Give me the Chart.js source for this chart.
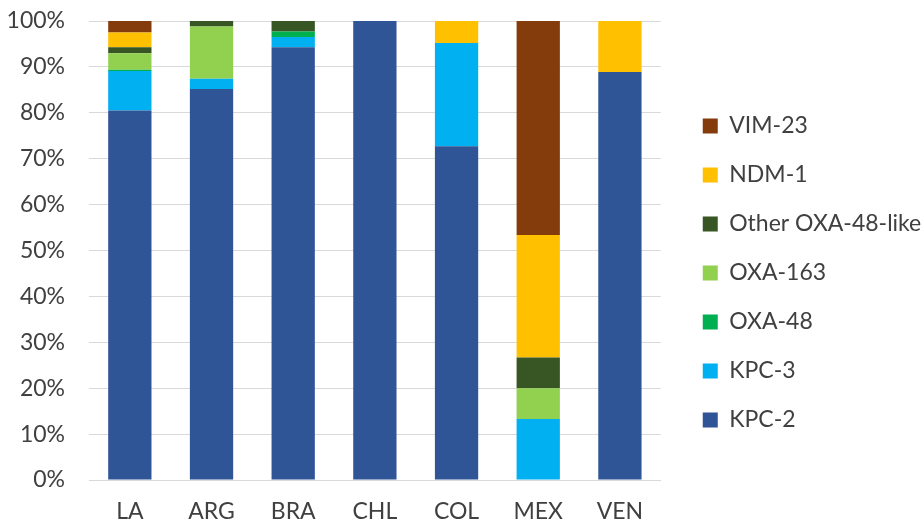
<!DOCTYPE html>
<html>
<head>
<meta charset="utf-8">
<script src="https://cdn.jsdelivr.net/npm/chart.js@4.4.1/dist/chart.umd.min.js"></script>
<style>
  html, body { margin: 0; padding: 0; background: #fff; }
  #wrap { width: 924px; height: 525px; }
</style>
</head>
<body>
<div id="wrap"><canvas id="c" width="924" height="525"></canvas></div>
<script>
// Countries / regions on the x axis
const categories = ['LA', 'ARG', 'BRA', 'CHL', 'COL', 'MEX', 'VEN'];

// Share of each carbapenemase (%) per category, stacked bottom to top
const kpc2      = [80.5, 85.2, 94.3, 100, 72.7, 0,    88.9];
const kpc3      = [8.6,  2.2,  2.2,  0,   22.5, 13.3, 0];
const oxa48     = [0.3,  0,    1.2,  0,   0,    0,    0];
const oxa163    = [3.6,  11.4, 0,    0,   0,    6.7,  0];
const otherOxa  = [1.3,  1.2,  2.3,  0,   0,    6.7,  0];
const ndm1      = [3.2,  0,    0,    0,   4.8,  26.7, 11.1];
const vim23     = [2.5,  0,    0,    0,   0,    46.6, 0];

const yTicks = [0, 10, 20, 30, 40, 50, 60, 70, 80, 90, 100];

const FONT = 'Lato, "Open Sans", sans-serif';
const TEXT = '#404040';

const series = [
  { label: 'KPC-2', data: kpc2, color: '#2F5597' },
  { label: 'KPC-3', data: kpc3, color: '#00B0F0' },
  { label: 'OXA-48', data: oxa48, color: '#00B050' },
  { label: 'OXA-163', data: oxa163, color: '#92D050' },
  { label: 'Other OXA-48-like', data: otherOxa, color: '#375623' },
  { label: 'NDM-1', data: ndm1, color: '#FFC000' },
  { label: 'VIM-23', data: vim23, color: '#843C0C' }
];

// Leave a gap between the plot and the legend column, and let the
// legend run to the right edge of the canvas
const legendGap = {
  id: 'legendGap',
  afterLayout(chart) {
    const lg = chart.legend;
    if (!lg) return;
    lg.left += 16;
    lg.right = chart.width;
    lg.width = lg.right - lg.left;
  }
};

new Chart(document.getElementById('c'), {
  type: 'bar',
  data: {
    labels: categories,
    datasets: series.map(s => ({
      label: s.label,
      data: s.data,
      backgroundColor: s.color,
      borderWidth: 0,
      categoryPercentage: 1,
      barPercentage: 0.53
    }))
  },
  plugins: [legendGap],
  options: {
    responsive: false,
    animation: false,
    layout: { padding: { top: 21, right: 43, bottom: 0, left: 0 } },
    plugins: {
      tooltip: { enabled: false },
      legend: {
        position: 'right',
        align: 'center',
        reverse: true,
        labels: {
          boxWidth: 15,
          boxHeight: 15,
          padding: 26,
          color: TEXT,
          font: { family: FONT, size: 23 }
        }
      }
    },
    scales: {
      x: {
        stacked: true,
        grid: { display: false },
        border: { display: true, color: '#d9d9d9', width: 1 },
        ticks: { color: TEXT, font: { family: FONT, size: 23 }, padding: 10 },
        afterFit: s => { s.height = 45; }
      },
      y: {
        stacked: true,
        min: 0,
        max: 100,
        afterBuildTicks: s => { s.ticks = yTicks.map(v => ({ value: v })); },
        grid: { color: '#d9d9d9', drawTicks: true, tickLength: 22, tickColor: 'rgba(0,0,0,0)' },
        border: { display: false },
        ticks: {
          color: TEXT,
          font: { family: FONT, size: 23 },
          padding: 2,
          callback: v => v + '%'
        },
        afterFit: s => { s.width = 89; }
      }
    }
  }
});
</script>
</body>
</html>
